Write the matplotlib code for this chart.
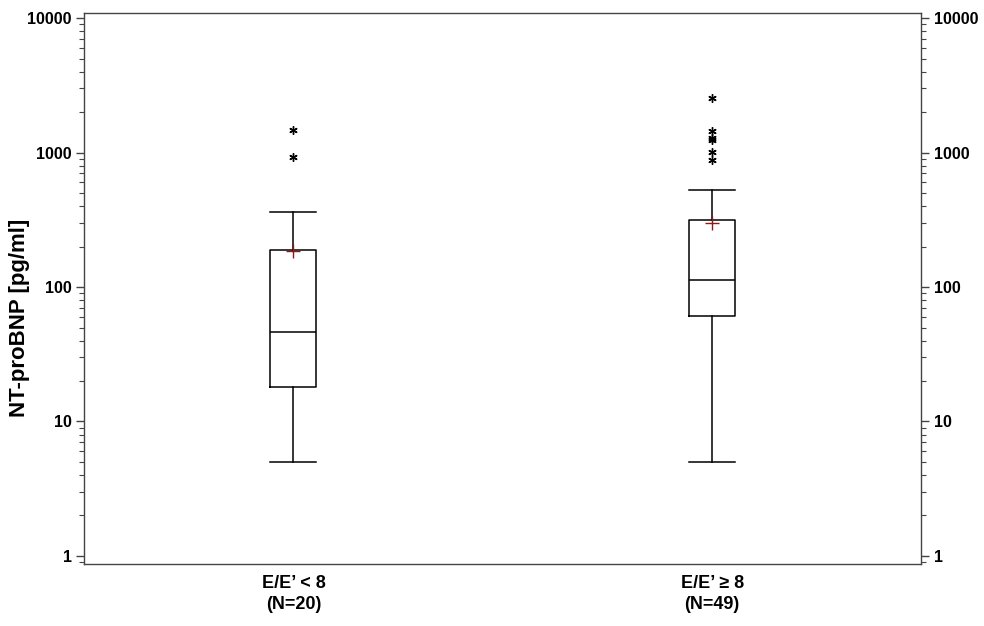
import matplotlib
matplotlib.use("Agg")
import matplotlib.pyplot as plt
from matplotlib.ticker import FixedLocator, FixedFormatter, LogLocator, NullFormatter

# values (pg/ml)
groups = ["E/E\u2019 < 8\n(N=20)", "E/E\u2019 \u2265 8\n(N=49)"]
whislo = [5, 5]
q1 = [18, 61]
med = [46, 113]
q3 = [189, 316]
whishi = [363, 530]
means = [186, 300]
outliers = [[920, 1480], [887, 1017, 1250, 1290, 1435, 2530]]

yticks = [1, 10, 100, 1000, 10000]
ylabels = ["1", "10", "100", "1000", "10000"]

plt.rcParams['font.family'] = ['Liberation Sans', 'DejaVu Sans']

fig = plt.figure(figsize=(9.84, 6.26), dpi=100)
ax = fig.add_axes([0.0854, 0.099, 0.851, 0.880])

stats = []
for i in range(len(groups)):
    stats.append(dict(whislo=whislo[i], q1=q1[i], med=med[i], q3=q3[i],
                      whishi=whishi[i], mean=means[i], fliers=outliers[i]))

ax.bxp(stats, positions=[1, 2], widths=0.11, showmeans=True, showfliers=True,
       boxprops=dict(color='black', linewidth=1.1),
       medianprops=dict(color='black', linewidth=1.1),
       whiskerprops=dict(color='black', linewidth=1.1),
       capprops=dict(color='black', linewidth=1.1),
       capwidths=0.11,
       meanprops=dict(marker='+', markeredgecolor='#8b1a1a', markersize=10,
                      markeredgewidth=1.0),
       flierprops=dict(marker=(6, 2, 0), markeredgecolor='black',
                       markerfacecolor='black', markersize=6, markeredgewidth=1.0,
                       linestyle='none'))

ax.set_yscale('log')
ax.set_ylim(10 ** -0.06, 10 ** 4.037)
ax.set_xlim(0.5, 2.5)
ax.yaxis.set_major_locator(FixedLocator(yticks))
ax.yaxis.set_major_formatter(FixedFormatter(ylabels))
ax.yaxis.set_minor_locator(LogLocator(base=10, subs=range(2, 10)))
ax.yaxis.set_minor_formatter(NullFormatter())

ax.set_xticks([1, 2])
ax.set_xticklabels(groups, fontsize=13, fontweight='bold', linespacing=1.3)
ax.tick_params(axis='x', length=0, pad=8)
ax.tick_params(axis='y', which='major', length=6, width=1, right=True,
               labelright=True, labelsize=11.5, color='#444444', pad=3)
ax.tick_params(axis='y', which='minor', length=3.5, width=0.8, right=True,
               color='#444444')
for lab in ax.get_yticklabels():
    lab.set_fontweight('bold')

ax.set_ylabel("NT-proBNP [pg/ml]", fontsize=16, fontweight='bold')
ax.yaxis.set_label_coords(-0.064, 0.446)

for sp in ax.spines.values():
    sp.set_color('#444444')
    sp.set_linewidth(1.0)

fig.savefig("out.png", dpi=100)
